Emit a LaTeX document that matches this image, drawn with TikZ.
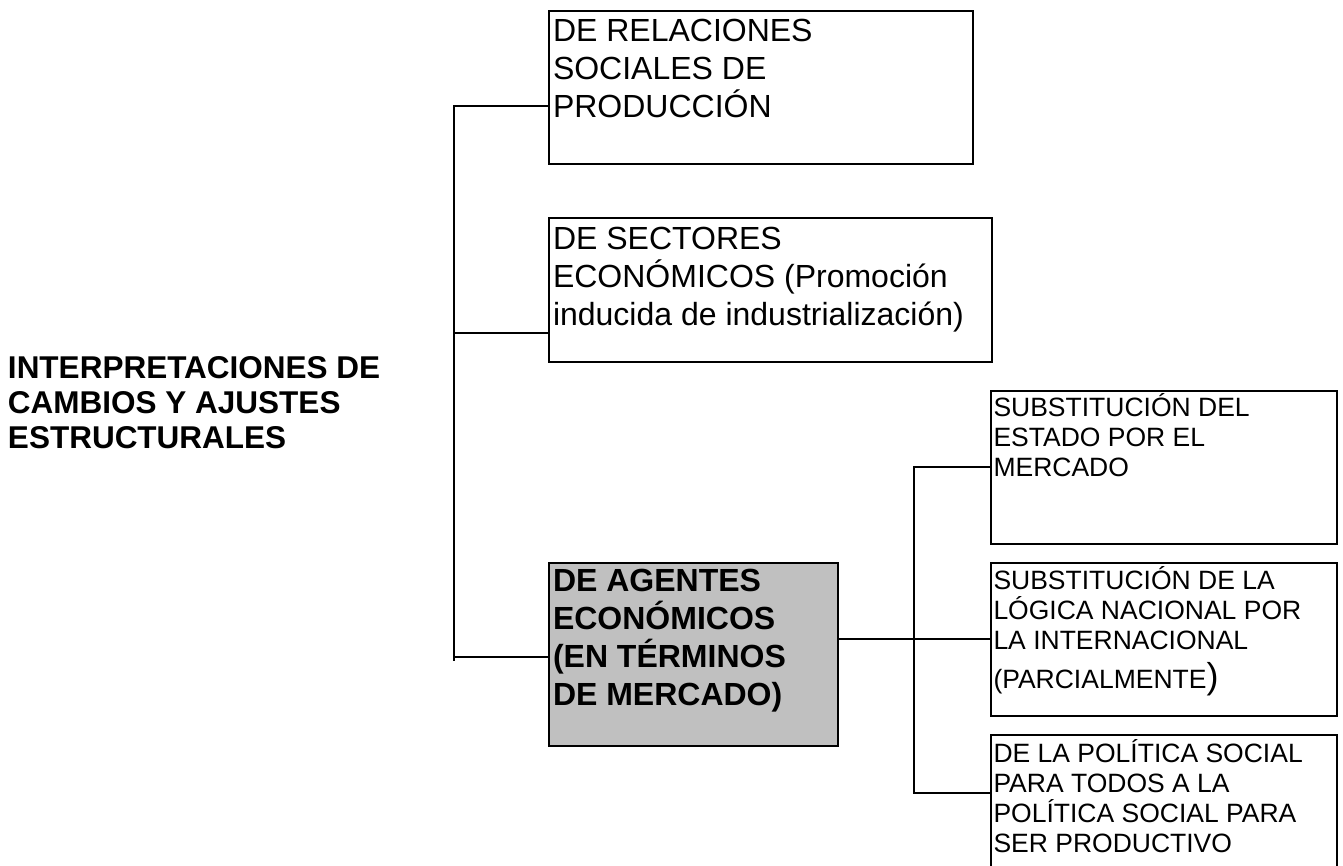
\documentclass[tikz,border=0pt]{standalone}
\usepackage{fontspec}
\setmainfont{Liberation Sans}
\definecolor{boxgray}{HTML}{C0C0C0}
\newcommand{\fst}{\rule{0pt}{1em}}
\begin{document}
\begin{tikzpicture}[x=1pt,y=-1pt,
  box/.style={draw=black, line width=1.6pt, rectangle, anchor=north west,
    inner sep=0pt, outer sep=0pt},
  txt/.style={anchor=north west, inner sep=0pt, outer sep=0pt, align=left},
  bigf/.style={font=\fontsize{32}{38}\selectfont},
  boldf/.style={font=\fontsize{32}{38}\selectfont\bfseries},
  titlef/.style={font=\fontsize{31.5}{35}\selectfont\bfseries},
  smallf/.style={font=\fontsize{26.5}{30}\selectfont},
  conn/.style={draw=black, line width=1.6pt}]
\clip (0,0) rectangle (1343,866);
\fill[white] (0,0) rectangle (1343,866);

% boxes
\node[box, minimum width=424pt, minimum height=153pt] (b1) at (549,11) {};
\node[box, minimum width=443pt, minimum height=144pt] (b2) at (549,218) {};
\node[box, fill=boxgray, minimum width=289pt, minimum height=183pt] (b3) at (549,563) {};
\node[box, minimum width=346pt, minimum height=153pt] (b4) at (991,391) {};
\node[box, minimum width=346pt, minimum height=153pt] (b5) at (991,563) {};
\node[box, minimum width=346pt, minimum height=170pt] (b6) at (991,735) {};

% texts
\node[txt, titlef] (title) at (8,346.8) {\fst INTERPRETACIONES DE\\CAMBIOS Y AJUSTES\\ESTRUCTURALES};
\node[txt, bigf] (t1) at ([xshift=4pt,yshift=1.5pt]b1.north west) {\fst DE RELACIONES\\SOCIALES DE\\PRODUCCIÓN};
\node[txt, bigf] (t2) at ([xshift=4pt,yshift=0.5pt]b2.north west) {\fst DE SECTORES\\ECONÓMICOS (Promoción\\inducida de industrialización)};
\node[txt, boldf] (t3) at ([xshift=4pt,yshift=3.5pt]b3.north west) {\fst DE AGENTES\\ECONÓMICOS\\(EN TÉRMINOS\\DE MERCADO)};
\node[txt, smallf] (t4) at ([xshift=2.5pt,yshift=1pt]b4.north west) {\fst SUBSTITUCIÓN DEL\\ESTADO POR EL\\MERCADO};
\node[txt, smallf] (t5) at ([xshift=2.5pt,yshift=0pt]b5.north west) {\fst SUBSTITUCIÓN DE LA\\LÓGICA NACIONAL POR\\LA INTERNACIONAL\\[9pt](PARCIALMENTE{\fontsize{36}{36}\selectfont)}};
\node[txt, smallf] (t6) at ([xshift=2.5pt,yshift=-0.5pt]b6.north west) {\fst DE LA POLÍTICA SOCIAL\\PARA TODOS A LA\\POLÍTICA SOCIAL PARA\\SER PRODUCTIVO};

% left tree
\coordinate (j1) at (454,106);
\coordinate (j2) at (454,333);
\coordinate (j3) at (454,657);
\coordinate (jend) at (454,661);
\draw[conn] (j1 -| b1.west) -- (j1) -- (jend);
\draw[conn] (j2) -- (j2 -| b2.west);
\draw[conn] (j3) -- (j3 -| b3.west);

% right tree
\coordinate (k1) at (914,467);
\coordinate (k2) at (914,639);
\coordinate (k3) at (914,793);
\draw[conn] (k1 -| b4.west) -- (k1) -- (k3) -- (k3 -| b6.west);
\draw[conn] (k2 -| b3.east) -- (k2) -- (k2 -| b5.west);
\end{tikzpicture}
\end{document}
